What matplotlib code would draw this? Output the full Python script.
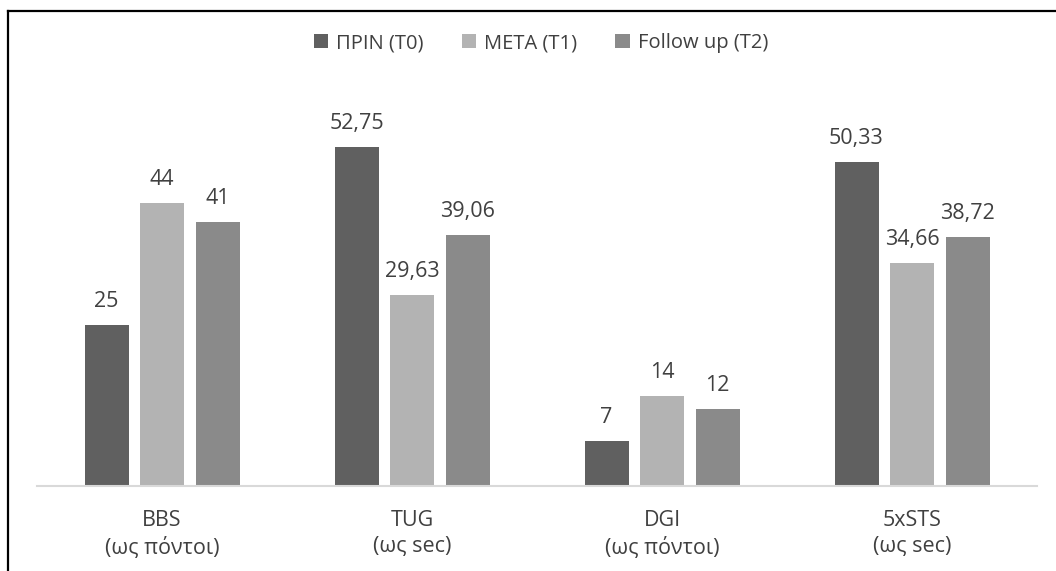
import numpy as np
import matplotlib.pyplot as plt
from matplotlib.lines import Line2D

plt.rcParams['font.family'] = ['Open Sans', 'DejaVu Sans']

# kategorije in vrednosti
kategorije = ['BBS\n(ως πόντοι)', 'TUG\n(ως sec)', 'DGI\n(ως πόντοι)', '5xSTS\n(ως sec)']
serije = ['ΠΡΙΝ (Τ0)', 'ΜΕΤΑ (Τ1)', 'Follow up (T2)']
t0 = [25, 52.75, 7, 50.33]
t1 = [44, 29.63, 14, 34.66]
t2 = [41, 39.06, 12, 38.72]
barve = ['#606060', '#b3b3b3', '#8a8a8a']
txt_c = '#404040'

W, H = 1056, 571
fig = plt.figure(figsize=(W / 100, H / 100), dpi=100)
ax = fig.add_axes([37 / W, (H - 486) / H, 1000 / W, 386 / H])

x = np.arange(len(kategorije))
sirina = 0.176
korak = 0.222
for i, (vals, ime) in enumerate(zip([t0, t1, t2], serije)):
    pos = x + (i - 1) * korak
    bars = ax.bar(pos, vals, width=sirina, color=barve[i], label=ime, zorder=2)
    for b, v in zip(bars, vals):
        ax.annotate(f'{v:g}'.replace('.', ','), (b.get_x() + b.get_width() / 2, v),
                    xytext=(0, 13), textcoords='offset points',
                    ha='center', va='baseline', fontsize=15.5, color=txt_c)

ax.set_xlim(-0.5, len(kategorije) - 0.5)
ax.set_ylim(0, 60)
ax.set_xticks(x)
ax.set_xticklabels(kategorije, fontsize=15.5, color=txt_c, linespacing=1.35)
ax.tick_params(axis='x', length=0, pad=17)
ax.set_yticks([])
for s in ['top', 'right', 'left']:
    ax.spines[s].set_visible(False)
ax.spines['bottom'].set_color('#d9d9d9')
ax.spines['bottom'].set_linewidth(1.5)

leg = fig.legend(loc='center', bbox_to_anchor=(541 / W, 1 - 43 / H), ncol=3,
                 frameon=False, fontsize=14.5, handlelength=0.7, handleheight=0.7,
                 handletextpad=0.4, columnspacing=1.9)
for t in leg.get_texts():
    t.set_color(txt_c)

# okvir (zgoraj in levo)
fig.add_artist(Line2D([7.5 / W, 1], [1 - 10.5 / H, 1 - 10.5 / H], color='black', lw=1.6))
fig.add_artist(Line2D([7.5 / W, 7.5 / W], [0, 1 - 10.5 / H], color='black', lw=1.6))

fig.savefig('out.png', dpi=100)
